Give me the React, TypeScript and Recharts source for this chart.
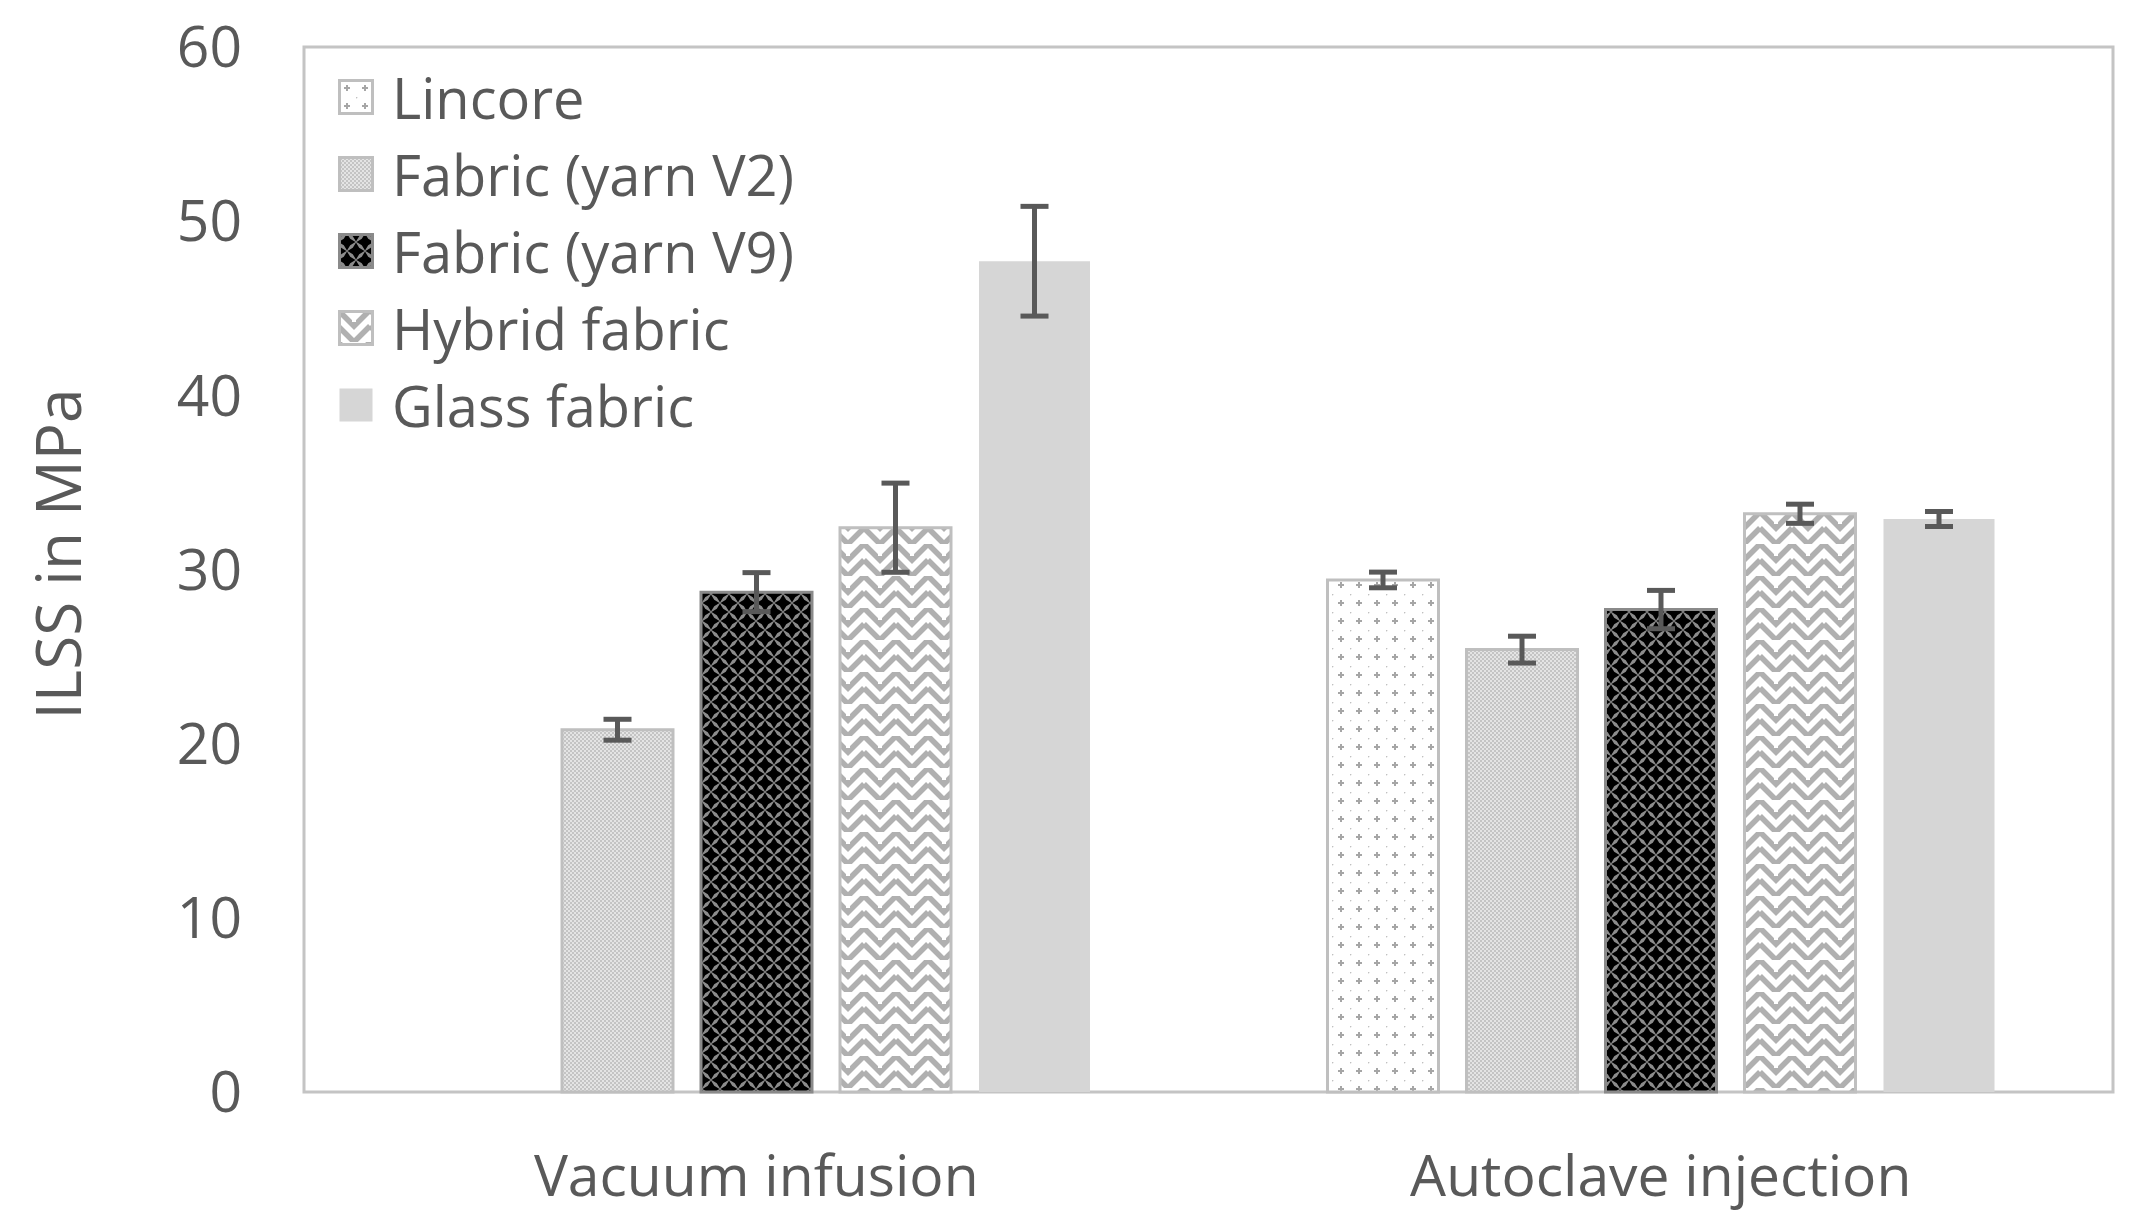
import React from "react";
import { BarChart, Bar, XAxis, YAxis, ErrorBar, ReferenceArea, Legend } from "recharts";

const categories = ["Vacuum infusion", "Autoclave injection"];
const lincore = [null, 29.4];
const lincoreErr = [null, 0.45];
const yarnV2 = [20.8, 25.4];
const yarnV2Err = [0.6, 0.77];
const yarnV9 = [28.7, 27.7];
const yarnV9Err = [1.12, 1.1];
const hybrid = [32.4, 33.2];
const hybridErr = [2.56, 0.55];
const glass = [47.7, 32.9];
const glassErr = [3.15, 0.43];
const yTicks = [0, 10, 20, 30, 40, 50, 60];

const data = categories.map((name, i) => ({
  name,
  lincore: lincore[i],
  lincoreErr: lincoreErr[i],
  yarnV2: yarnV2[i],
  yarnV2Err: yarnV2Err[i],
  yarnV9: yarnV9[i],
  yarnV9Err: yarnV9Err[i],
  hybrid: hybrid[i],
  hybridErr: hybridErr[i],
  glass: glass[i],
  glassErr: glassErr[i],
}));

const FONT = "'Open Sans', sans-serif";
const TEXT = "#595959";
const EDGE = "#bfbfbf";

const series = [
  { key: "lincore", err: "lincoreErr", name: "Lincore", fill: "url(#patLincore)", stroke: EDGE },
  { key: "yarnV2", err: "yarnV2Err", name: "Fabric (yarn V2)", fill: "url(#patV2)", stroke: EDGE },
  { key: "yarnV9", err: "yarnV9Err", name: "Fabric (yarn V9)", fill: "url(#patV9)", stroke: "#8a8a8a" },
  { key: "hybrid", err: "hybridErr", name: "Hybrid fabric", fill: "url(#patHybrid)", stroke: EDGE },
  { key: "glass", err: "glassErr", name: "Glass fabric", fill: "#d6d6d6", stroke: "none" },
];

const Patterns = () => (
  <defs>
    <pattern id="patLincore" patternUnits="userSpaceOnUse" width="18" height="18">
      <rect width="18" height="18" fill="#ffffff" />
      <path d="M9 6 V12 M6 9 H12" stroke="#a6a6a6" strokeWidth="2" />
      <circle cx="0" cy="0" r="1.5" fill="#c0c0c0" />
    </pattern>
    <pattern id="patV2" patternUnits="userSpaceOnUse" width="4" height="4">
      <rect width="4" height="4" fill="#e4e4e4" />
      <rect width="2" height="2" fill="#c4c4c4" />
      <rect x="2" y="2" width="2" height="2" fill="#c4c4c4" />
    </pattern>
    <pattern id="patV9" patternUnits="userSpaceOnUse" width="18" height="18">
      <rect width="18" height="18" fill="#8c8c8c" />
      {[
        [0, 0],
        [18, 0],
        [0, 18],
        [18, 18],
        [9, 9],
      ].map(([cx, cy], i) => (
        <polygon
          key={i}
          fill="#000000"
          points={`${cx},${cy - 8.5} ${cx + 3.2},${cy - 3.2} ${cx + 8.5},${cy} ${cx + 3.2},${cy + 3.2} ${cx},${cy + 8.5} ${cx - 3.2},${cy + 3.2} ${cx - 8.5},${cy} ${cx - 3.2},${cy - 3.2}`}
        />
      ))}
    </pattern>
    <pattern id="patHybrid" patternUnits="userSpaceOnUse" width="32" height="32">
      <rect width="32" height="32" fill="#ffffff" />
      <path d="M0 0 L16 16 L32 0 M0 16 L16 32 L32 16" stroke="#b0b0b0" strokeWidth="5.5" fill="none" />
      <path d="M16 8 L16 12 M0 24 L0 28 M32 24 L32 28" stroke="#ffffff" strokeWidth="4" />
    </pattern>
  </defs>
);

const LegendBox = () => (
  <div style={{ fontFamily: FONT, fontSize: 56, color: TEXT }}>
    {series.map((s) => (
      <div key={s.key} style={{ display: "flex", alignItems: "center", height: 77 }}>
        <svg width={36} height={36} style={{ display: "block" }}>
          <rect
            x={1.5}
            y={1.5}
            width={33}
            height={33}
            fill={s.fill}
            stroke={s.stroke === "none" ? "none" : s.stroke}
            strokeWidth={3}
          />
        </svg>
        <span style={{ marginLeft: 18, lineHeight: 1, whiteSpace: "nowrap" }}>{s.name}</span>
      </div>
    ))}
  </div>
);

const YLabel = () => (
  <text
    x={57}
    y={554}
    transform="rotate(-90 57 554)"
    textAnchor="middle"
    dominantBaseline="central"
    fill={TEXT}
    fontFamily={FONT}
    fontSize={62}
  >
    ILSS in MPa
  </text>
);

const App: React.FC = () => {
  return (
    <div style={{ position: "absolute", left: 0, top: 0, width: 2146, height: 1231, background: "#fff" }}>
      <BarChart
        width={2146}
        height={1231}
        data={data}
        margin={{ top: 47, right: 33, bottom: 109, left: 0 }}
        barCategoryGap={119}
        barGap={28}
      >
        <Patterns />
        <XAxis
          dataKey="name"
          height={30}
          axisLine={false}
          tickLine={false}
          tickSize={0}
          tickMargin={64}
          tick={{ fill: TEXT, fontFamily: FONT, fontSize: 57 }}
        />
        <YAxis
          width={304}
          domain={[0, 60]}
          ticks={yTicks}
          axisLine={false}
          tickLine={false}
          tickSize={0}
          tickMargin={62}
          tick={{ fill: TEXT, fontFamily: FONT, fontSize: 57 }}
          label={{ content: () => <YLabel /> }}
        />
        <ReferenceArea y1={0} y2={60} fill="none" stroke="#c4c4c4" strokeWidth={3} ifOverflow="visible" />
        <Legend
          layout="vertical"
          verticalAlign="middle"
          align="center"
          content={() => <LegendBox />}
          wrapperStyle={{ left: 338, top: 58, width: "auto" }}
        />
        {series.map((s) => (
          <Bar
            key={s.key}
            dataKey={s.key}
            name={s.name}
            fill={s.fill}
            stroke={s.stroke}
            strokeWidth={3}
            isAnimationActive={false}
          >
            <ErrorBar dataKey={s.err} width={14} strokeWidth={5} stroke={TEXT} direction="y" />
          </Bar>
        ))}
      </BarChart>
    </div>
  );
};

export default App;
